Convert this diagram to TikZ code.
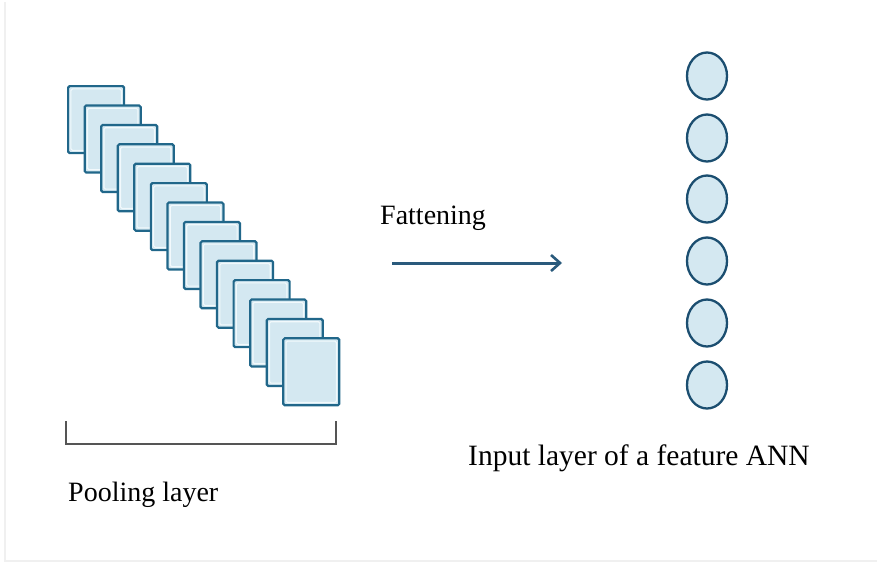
\documentclass[tikz,border=0pt]{standalone}
\usepackage{fontspec}
\setmainfont{Liberation Serif}
\usetikzlibrary{shapes.geometric,arrows.meta}
\definecolor{sqedge}{HTML}{21678A}
\definecolor{sqfill}{HTML}{D4E8F1}
\definecolor{sqin}{HTML}{F2F9FC}
\definecolor{cedge}{HTML}{1B4E70}
\definecolor{arrowc}{HTML}{2A5A7C}
\definecolor{framec}{HTML}{F0F0F0}
\definecolor{bracketc}{HTML}{555555}
\tikzset{
  mapbox/.style={draw=sqedge, line width=2.2pt, fill=sqfill, rounded corners=1.5pt,
    minimum width=56pt, minimum height=67pt, inner sep=0pt, anchor=north west,
    path picture={\draw[sqin, line width=1.1pt]
      ([xshift=2.8pt,yshift=-2.8pt]path picture bounding box.north west) rectangle
      ([xshift=-2.8pt,yshift=2.8pt]path picture bounding box.south east);}},
  neuron/.style={ellipse, draw=cedge, line width=2.3pt, fill=sqfill,
    minimum width=40pt, minimum height=47pt, inner sep=0pt},
  lbl/.style={font=\fontsize{28}{30}\selectfont, text=black, inner sep=0pt, anchor=base west},
  flow/.style={draw=arrowc, line width=3pt, -{Straight Barb[length=9pt,width=16pt,line width=2.6pt]}},
  brace/.style={draw=bracketc, line width=2pt},
  framel/.style={draw=framec, line width=1.5pt}
}
\begin{document}
\begin{tikzpicture}[x=1pt,y=-1pt]
\useasboundingbox (0,0) rectangle (877,563);
\fill[white] (0,0) rectangle (877,563);
% faint frame
\coordinate (f1) at (5,2);
\coordinate (f2) at (5,561);
\coordinate (f3) at (877,561);
\draw[framel] (f1) -- (f2) -- (f3);
% pooling maps
\foreach \i in {0,...,13}{
  \node[mapbox] (s\i) at ({67+16.55*\i},{85+19.4*\i}) {};
}
% bracket
\coordinate (b1) at (66,421);
\coordinate (b2) at (66,444);
\coordinate (b3) at (336,444);
\coordinate (b4) at (336,421);
\draw[brace] (b1) -- (b2) -- (b3) -- (b4);
\node[lbl] (pool) at (68,501) {Pooling layer};
% flattening
\node[lbl] (flat) at (380,224) {Fattening};
\coordinate (a1) at (392,263);
\coordinate (a2) at (562,263);
\draw[flow] (a1) -- (a2);
% input neurons
\foreach \i/\y in {1/76,2/138,3/199,4/261,5/323,6/385}{
  \node[neuron] (c\i) at (707,\y) {};
}
\node[lbl, font=\fontsize{29.5}{31}\selectfont] (inp) at (468,465) {Input layer of a feature ANN};
\end{tikzpicture}
\end{document}
